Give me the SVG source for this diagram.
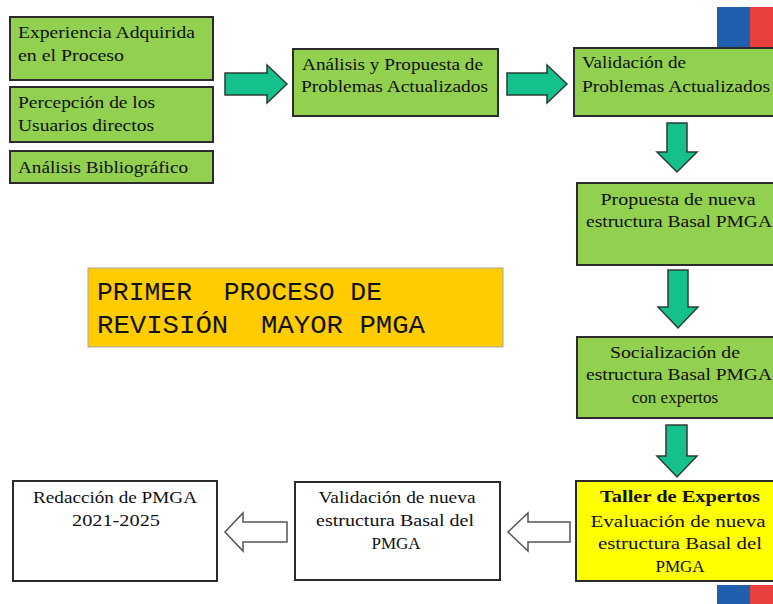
<svg xmlns="http://www.w3.org/2000/svg" width="773" height="604" viewBox="0 0 773 604">
<style>
.g{fill:#92D050;stroke:#2b2b2b;stroke-width:2}
.w{fill:#ffffff;stroke:#2b2b2b;stroke-width:2}
.y{fill:#FFFF00;stroke:#2b2b2b;stroke-width:2}
.ar{fill:#14C08C;stroke:#2b3d35;stroke-width:1.5;stroke-linejoin:miter}
.ho{fill:#ffffff;stroke:#555;stroke-width:1.5}
text{font-family:'Liberation Serif',serif;font-size:17px;fill:#111}
.c{text-anchor:middle}
.t{font-family:'Liberation Mono',monospace;font-size:26px}
</style>
<rect width="773" height="604" fill="#ffffff"/>
<g id="flag-top"><rect x="717" y="7" width="33" height="41" fill="#1F5FAD"/><rect x="750" y="7" width="23" height="41" fill="#E8403F"/></g>
<g id="flag-bottom"><rect x="717" y="585" width="33" height="19" fill="#1F5FAD"/><rect x="750" y="585" width="23" height="19" fill="#E8403F"/></g>
<g id="n-experiencia"><rect class="g" x="10" y="17" width="203" height="63"/>
<text x="18" y="38" textLength="177" lengthAdjust="spacingAndGlyphs">Experiencia Adquirida</text>
<text x="18" y="61" textLength="106" lengthAdjust="spacingAndGlyphs">en el Proceso</text></g>
<g id="n-percepcion"><rect class="g" x="10" y="87" width="203" height="55"/>
<text x="18" y="108" textLength="137" lengthAdjust="spacingAndGlyphs">Percepción de los</text>
<text x="18" y="131" textLength="136" lengthAdjust="spacingAndGlyphs">Usuarios directos</text></g>
<g id="n-bibliografico"><rect class="g" x="10" y="151" width="203" height="32"/>
<text x="18" y="173" textLength="170" lengthAdjust="spacingAndGlyphs">Análisis Bibliográfico</text></g>
<g id="n-analisis"><rect class="g" x="293" y="49" width="205" height="67"/>
<text x="302" y="70" textLength="181" lengthAdjust="spacingAndGlyphs">Análisis y Propuesta de</text>
<text x="301" y="92" textLength="187" lengthAdjust="spacingAndGlyphs">Problemas Actualizados</text></g>
<g id="n-validacion"><rect class="g" x="574" y="48" width="215" height="68"/>
<text x="582" y="68" textLength="104" lengthAdjust="spacingAndGlyphs">Validación de</text>
<text x="582" y="92" textLength="188" lengthAdjust="spacingAndGlyphs">Problemas Actualizados</text></g>
<g id="n-propuesta"><rect class="g" x="577" y="183" width="212" height="82"/>
<text class="c" x="678" y="205" textLength="155" lengthAdjust="spacingAndGlyphs">Propuesta de nueva</text>
<text class="c" x="679" y="227" textLength="186" lengthAdjust="spacingAndGlyphs">estructura Basal PMGA</text></g>
<g id="n-socializacion"><rect class="g" x="577" y="337" width="212" height="81"/>
<text class="c" x="675" y="358" textLength="130" lengthAdjust="spacingAndGlyphs">Socialización de</text>
<text class="c" x="679" y="380" textLength="186" lengthAdjust="spacingAndGlyphs">estructura Basal PMGA</text>
<text class="c" x="675" y="403">con expertos</text></g>
<g id="n-taller"><rect class="y" x="576" y="481" width="213" height="100"/>
<text class="c" x="680" y="502" font-weight="bold" textLength="160" lengthAdjust="spacingAndGlyphs">Taller de Expertos</text>
<text class="c" x="678" y="527" textLength="175" lengthAdjust="spacingAndGlyphs">Evaluación de nueva</text>
<text class="c" x="680" y="549" textLength="164" lengthAdjust="spacingAndGlyphs">estructura Basal del</text>
<text class="c" x="680" y="572">PMGA</text></g>
<g id="n-validacion-nueva"><rect class="w" x="295" y="482" width="205" height="98"/>
<text class="c" x="397" y="503" textLength="157" lengthAdjust="spacingAndGlyphs">Validación de nueva</text>
<text class="c" x="395" y="526" textLength="158" lengthAdjust="spacingAndGlyphs">estructura Basal del</text>
<text class="c" x="396" y="549">PMGA</text></g>
<g id="n-redaccion"><rect class="w" x="13" y="481" width="204" height="100"/>
<text class="c" x="115" y="503" textLength="164" lengthAdjust="spacingAndGlyphs">Redacción de PMGA</text>
<text class="c" x="116" y="526" textLength="88" lengthAdjust="spacingAndGlyphs">2021-2025</text></g>
<g id="n-titulo"><rect x="88" y="268" width="415" height="79" fill="#FFCC00" stroke="#a8a8a8" stroke-width="1"/>
<text class="t" x="97" y="300" textLength="285" lengthAdjust="spacingAndGlyphs" xml:space="preserve">PRIMER  PROCESO DE</text>
<text class="t" x="97" y="333" textLength="328" lengthAdjust="spacingAndGlyphs" xml:space="preserve">REVISIÓN  MAYOR PMGA</text></g>
<g id="connectors">
<polygon class="ar" points="225,73 267,73 267,65 287,84 267,103 267,95 225,95"/>
<polygon class="ar" points="507,73 547,73 547,65 567,84 547,103 547,95 507,95"/>
<polygon class="ar" points="667,123 687,123 687,152 697,152 677,172 657,152 667,152"/>
<polygon class="ar" points="668,270 688,270 688,307 698,307 678,328 658,307 668,307"/>
<polygon class="ar" points="666,425 687,425 687,456 697,456 677,477 657,456 666,456"/>
<polygon class="ho" points="570,522 528,522 528,513 508,532 528,551 528,542 570,542"/>
<polygon class="ho" points="287,522 243,522 243,513 225,532 243,551 243,542 287,542"/>
</g>
</svg>
